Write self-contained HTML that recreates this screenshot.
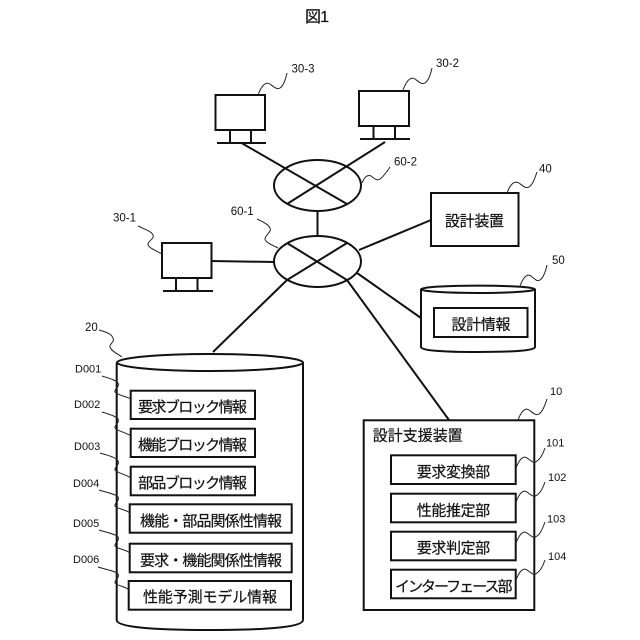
<!DOCTYPE html>
<html>
<head>
<meta charset="utf-8">
<style>
html,body{margin:0;padding:0;background:#fff}
svg{display:block;filter:blur(0.3px)}
text{font-family:"Liberation Sans","IPAGothic","Noto Sans CJK JP",sans-serif;fill:#111}
.j{font-family:"Liberation Sans","Noto Sans CJK JP",sans-serif;font-size:15px;stroke:#111;stroke-width:.2px}
.n{font-size:11.5px}
.s{fill:none;stroke:#111;stroke-width:2}
.b{fill:#fff;stroke:#111;stroke-width:2}
.w{fill:none;stroke:#222;stroke-width:1}
</style>
</head>
<body>
<svg width="640" height="640" viewBox="0 0 640 640" xmlns="http://www.w3.org/2000/svg">
<rect width="640" height="640" fill="#fff"/>
<text class="j" x="305" y="22" style="font-size:16px" textLength="24">図1</text>

<!-- connectors -->
<g class="s">
<path d="M241.500 143L347 204"/>
<path d="M385 142L287 204"/>
<path d="M317.500 211V236"/>
<path d="M287 243L347 280L449 420"/>
<path d="M347 243L287 280L213 352"/>
<path d="M211 261L274 262"/>
<path d="M359 250L431 220"/>
<path d="M357 273L421 318"/>
<ellipse cx="317.500" cy="185.500" rx="43.500" ry="25.500" fill="none"/>
<ellipse cx="317.500" cy="261.500" rx="43.500" ry="25.500" fill="none"/>
</g>

<!-- monitors -->
<g class="s">
<rect x="215.500" y="95" width="49.500" height="35" fill="#fff"/>
<path d="M230 130V143M251 130V143M217 143H266"/>
<rect x="359" y="91" width="50" height="35" fill="#fff"/>
<path d="M373.500 126V139M395 126V139M360 139H410"/>
<rect x="162" y="243" width="49.500" height="35" fill="#fff"/>
<path d="M176 278V291M197.500 278V291M163 291H213"/>
</g>

<!-- device 40 -->
<rect class="b" x="431" y="193" width="87.500" height="53"/>
<text class="j" x="445" y="226" textLength="59">設計装置</text>

<!-- cylinder 50 -->
<path class="b" d="M421 289V347Q421 352 478 352Q535 352 535 347V289"/>
<ellipse class="b" cx="478" cy="289.300" rx="57" ry="3.700"/>
<rect class="b" x="434" y="308" width="93.500" height="29"/>
<text class="j" x="451.500" y="329.500" textLength="59">設計情報</text>

<!-- cylinder 20 -->
<path class="b" d="M116.700 362.500V620Q116.700 630 210 630Q303 630 303 620V362.500"/>
<ellipse class="b" cx="210" cy="362.500" rx="93" ry="8.500"/>
<g class="b">
<rect x="130.700" y="390.700" width="124.300" height="28.300"/>
<rect x="130.700" y="428.700" width="124.300" height="28.300"/>
<rect x="130.700" y="466.700" width="124.300" height="28.600"/>
<rect x="129.700" y="504.300" width="162" height="28.400"/>
<rect x="129.700" y="543.700" width="162" height="28.600"/>
<rect x="128.700" y="581" width="162.300" height="28.700"/>
</g>
<text class="j" x="138" y="412" textLength="109">要求ブロック情報</text>
<text class="j" x="138" y="450" textLength="109">機能ブロック情報</text>
<text class="j" x="138" y="488" textLength="109">部品ブロック情報</text>
<text class="j" x="140" y="526" textLength="142">機能・部品関係性情報</text>
<text class="j" x="140" y="565.500" textLength="142">要求・機能関係性情報</text>
<text class="j" x="143" y="602" textLength="134">性能予測モデル情報</text>

<!-- device 10 -->
<rect class="b" x="363.700" y="420.300" width="170.600" height="189.700"/>
<g class="b">
<rect x="391" y="455.300" width="124.700" height="28.700"/>
<rect x="391" y="493.700" width="124.700" height="28.600"/>
<rect x="391" y="531.700" width="124.700" height="28.600"/>
<rect x="391" y="569.700" width="124.700" height="28.600"/>
</g>
<text class="j" x="372.700" y="440.500" textLength="90">設計支援装置</text>
<text class="j" x="416.700" y="477" textLength="73.500">要求変換部</text>
<text class="j" x="416.700" y="515.500" textLength="73.500">性能推定部</text>
<text class="j" x="416.700" y="553" textLength="73.500">要求判定部</text>
<text class="j" x="395" y="591.500" textLength="117.500">インターフェース部</text>

<!-- squiggle leaders, up-right -->
<g class="w">
<path d="M258 95c3-8 7-14 12-11c4 3 7 6 10 4c3-2 5-6 7-15"/>
<path d="M403 90c3-8 7-14 12-11c4 3 7 6 10 4c3-2 5-6 7-15"/>
<path d="M362 183c2-5 5-9 9-7c4 3 6 5 9 3c3-2 6-6 10-12"/>
<path d="M507 193c3-8 7-13 12-10c4 3 7 6 10 4c3-2 5-6 8-15"/>
<path d="M520 286c3-8 7-13 11-10c4 3 6 6 9 4c3-2 5-6 7-15"/>
<path d="M518 420c3-8 7-13 11-10c4 3 7 6 10 4c3-2 5-6 8-15"/>
<path d="M516 468c3-8 7-13 11-10c4 3 7 6 10 3c3-2 5-5 8-13"/>
<path d="M516 502c3-8 7-13 11-10c4 3 7 6 10 3c3-2 5-5 8-13"/>
<path d="M516 543c3-8 7-13 11-10c4 3 7 6 10 3c3-2 5-6 8-14"/>
<path d="M516 580c3-8 7-13 11-10c4 3 7 6 10 3c3-2 5-5 8-13"/>
<!-- squiggle leaders, down-right -->
<path d="M257 219c6 3 11 5 13 9c2 4-5 7-5 11c0 3 7 6 13 9"/>
<path d="M138 226c6 3 13 5 15 9c2 4-6 6-5 10c1 3 9 6 14 9"/>
<path d="M99 330c6 2 12 3 14 8c2 4-4 6-3 9c1 4 8 7 12 10"/>
<path d="M102 376c6 2 14 4 16 7c2 4-4 6-3 9c2 3 10 4 16 7"/>
<path d="M102 412c6 2 14 4 16 7c2 4-4 6-3 9c2 3 10 4 16 8"/>
<path d="M100 453c6 2 16 4 18 8c2 4-4 6-3 9c2 3 10 4 16 8"/>
<path d="M99 490c6 2 17 4 19 7c2 4-4 6-3 9c2 3 10 3 15 7"/>
<path d="M99 530c6 2 17 4 19 7c2 4-4 6-3 9c2 3 10 3 15 7"/>
<path d="M98 567c6 2 18 4 20 7c2 4-4 6-3 9c2 3 10 3 14 7"/>
</g>

<!-- labels -->
<g class="n">
<text x="291.500" y="72.500">30-3</text>
<text x="436" y="67">30-2</text>
<text x="394" y="165.500">60-2</text>
<text x="230.700" y="215">60-1</text>
<text x="113" y="221.500">30-1</text>
<text x="539" y="172.500">40</text>
<text x="552" y="264">50</text>
<text x="85" y="331">20</text>
<text x="75" y="372.500" style="font-size:11px">D001</text>
<text x="74" y="408" style="font-size:11px">D002</text>
<text x="74" y="450" style="font-size:11px">D003</text>
<text x="73" y="487" style="font-size:11px">D004</text>
<text x="73" y="527" style="font-size:11px">D005</text>
<text x="73" y="563" style="font-size:11px">D006</text>
<text x="550" y="395" style="font-size:11px">10</text>
<text x="546" y="446.500" style="font-size:11px">101</text>
<text x="548" y="481" style="font-size:11px">102</text>
<text x="547" y="522.500" style="font-size:11px">103</text>
<text x="548" y="560" style="font-size:11px">104</text>
</g>
</svg>
</body>
</html>
